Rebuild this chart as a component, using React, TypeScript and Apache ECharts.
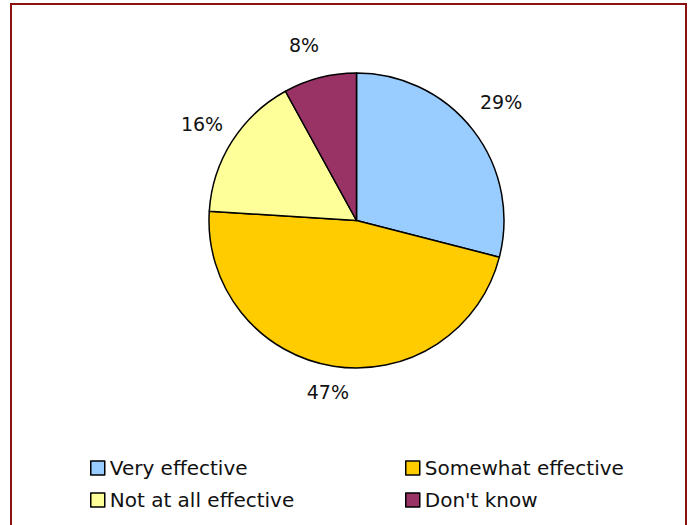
import React, { useEffect, useRef } from "react";
import * as echarts from "echarts";

const categories = ["Very effective", "Somewhat effective", "Not at all effective", "Don't know"];
const values = [29, 47, 16, 8];
const colors = ["#99CCFF", "#FFCC00", "#FFFF99", "#993366"];
const labelNudge = [[0, -6], [0, -9], [0, 2], [-7, 2]];

const FONT = "DejaVu Sans";

export default function App() {
  const ref = useRef<HTMLDivElement>(null);
  useEffect(() => {
    if (!ref.current) return;
    const chart = echarts.init(ref.current, null, { renderer: "svg" });
    const data = categories.map((name, i) => ({
      name,
      value: values[i],
      itemStyle: { color: colors[i] },
    }));
    const legendCommon = {
      orient: "vertical" as const,
      icon: "rect",
      itemWidth: 14,
      itemHeight: 14,
      itemGap: 12,
      itemStyle: { borderColor: "#000", borderWidth: 1.5 },
      textStyle: { fontFamily: FONT, fontSize: 20, color: "#111" },
      selectedMode: false,
    };
    chart.setOption({
      animation: false,
      backgroundColor: "#fff",
      graphic: [
        {
          type: "rect",
          shape: { x: 11, y: 4, width: 675, height: 540 },
          style: { fill: "none", stroke: "#8B1010", lineWidth: 2 },
          silent: true,
        },
      ],
      legend: [
        { ...legendCommon, left: 85, top: 453, data: [categories[0], categories[2]] },
        { ...legendCommon, left: 400, top: 453, data: [categories[1], categories[3]] },
      ],
      series: [
        {
          type: "pie",
          center: [356.5, 220.5],
          radius: 147.5,
          startAngle: 90,
          clockwise: true,
          data,
          label: { show: false },
          labelLine: { show: false },
          itemStyle: { borderColor: "#000", borderWidth: 1.5 },
          emphasis: { disabled: true },
        },
        {
          type: "pie",
          center: [356.5, 220.5],
          radius: [172, 188],
          startAngle: 90,
          clockwise: true,
          silent: true,
          data: categories.map((name, i) => ({
            name,
            value: values[i],
            label: { offset: labelNudge[i] },
          })),
          itemStyle: { color: "rgba(0,0,0,0)", borderWidth: 0 },
          label: {
            show: true,
            position: "inside",
            formatter: (p: any) => `${p.value}%`,
            fontFamily: FONT,
            fontSize: 19,
            color: "#111",
          },
          labelLine: { show: false },
          emphasis: { disabled: true },
        },
      ],
    });
    return () => chart.dispose();
  }, []);
  return (
    <div
      ref={ref}
      style={{ position: "absolute", left: 0, top: 0, width: 688, height: 525 }}
    />
  );
}
